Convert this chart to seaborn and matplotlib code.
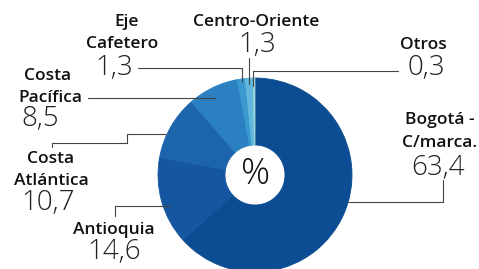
import matplotlib
matplotlib.use("Agg")
import matplotlib.pyplot as plt
import seaborn as sns

# ---- data ----
regions = ["Bogotá -\nC/marca.", "Antioquia", "Costa\nAtlántica", "Costa\nPacífica",
           "Eje\nCafetero", "Centro-Oriente", "Otros"]
shares = [63.4, 14.6, 10.7, 8.5, 1.3, 1.3, 0.3]
share_labels = ["63,4", "14,6", "10,7", "8,5", "1,3", "1,3", "0,3"]
slice_colors = ["#0c4c92", "#1556a0", "#1c65ad", "#2a80c0", "#3a9ad0", "#62b8dc", "#98d4d8"]

sns.set_theme(style="white")
plt.rcParams["font.family"] = ["Open Sans", "DejaVu Sans"]

W, H = 479, 269
fig = plt.figure(figsize=(W / 100, H / 100), dpi=100)
ax = fig.add_axes([0, 0, 1, 1])

def Y(y):
    return H - y

cx, cy, R, ring = 255, 175, 97, 67
wedges, _ = ax.pie(shares, colors=slice_colors, startangle=90, counterclock=False,
                   center=(cx, Y(cy)), radius=R,
                   wedgeprops=dict(width=ring, linewidth=0.6))
for w in wedges:
    w.set_edgecolor(w.get_facecolor())
ax.set_xlim(0, W)
ax.set_ylim(0, H)
ax.set_aspect("auto")
ax.axis("off")

ax.text(cx + 1, Y(cy), "%", ha="center", va="center", fontsize=26,
        color="#111111", family=["Open Sans", "DejaVu Sans"], fontweight="light")

# label layout: (name line x centers, name line y centers, number x, number y)
layout = {
    0: ([440, 440], [118, 141], 438, 168),
    1: ([114], [228], 114, 252),
    2: ([51, 51], [157, 179], 48, 203),
    3: ([48, 50], [74, 96], 40, 119),
    4: ([127, 122], [20, 42], 114, 68),
    5: ([256], [20], 257, 45),
    6: ([423], [43], 426, 68),
}
name_fs = 12.5
num_fs = 20
for i, (lxs, lys, nx, ny) in layout.items():
    for txt, lx, ly in zip(regions[i].split("\n"), lxs, lys):
        ax.text(lx, Y(ly), txt, ha="center", va="center_baseline", fontsize=name_fs,
                fontweight="semibold", color="#111111")
    ax.text(nx, Y(ny), share_labels[i], ha="center", va="center", fontsize=num_fs,
            color="#222222", family=["Open Sans", "DejaVu Sans"], fontweight="light")

# leader lines (layout only)
lines = [
    [(443, 180), (443, 202), (348, 202)],
    [(115, 216), (115, 206), (170, 206)],
    [(52, 147), (52, 143), (127, 143), (127, 134), (166, 134)],
    [(88, 98), (215, 98)],
    [(138, 68), (242, 68), (242, 82)],
    [(249, 58), (249, 84)],
    [(398, 71), (253, 71), (253, 86)],
]
for pts in lines:
    xs = [p[0] for p in pts]
    ys = [Y(p[1]) for p in pts]
    ax.plot(xs, ys, color="#444444", linewidth=0.8)

fig.savefig("out.png", dpi=100)
